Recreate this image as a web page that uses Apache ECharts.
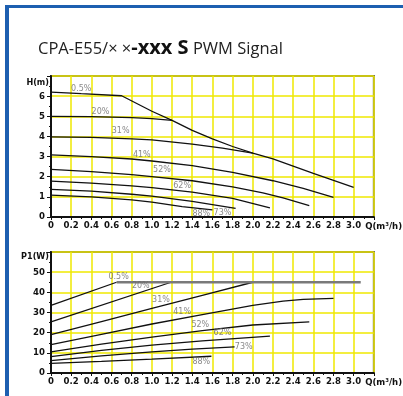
<!DOCTYPE html>
<html><head><meta charset="utf-8">
<script src="https://cdn.jsdelivr.net/npm/echarts@6/dist/echarts.min.js"></script>
<style>html,body{margin:0;padding:0;background:#fff;}#c{width:403px;height:396px;}</style>
</head><body><div id="c"></div>
<script>
// ---- Data: H(m) vs Q(m3/h) ----
const speedNames = ['0.5%','20%','31%','41%','52%','62%','73%','88%'];
const head05 = [[0,6.2],[0.3,6.12],[0.7,6.02],[1.0,5.25],[1.2,4.8],[1.4,4.3],[1.6,3.88],[1.8,3.5],[2.0,3.17],[2.2,2.88],[2.4,2.53],[2.6,2.17],[2.8,1.82],[3.0,1.47]];
const head20 = [[0,5.0],[0.4,4.98],[0.8,4.93],[1.0,4.88],[1.2,4.8]];
const head31 = [[0,3.98],[0.4,3.95],[0.8,3.88],[1.0,3.83],[1.4,3.62],[1.7,3.42],[2.0,3.17]];
const head41 = [[0,3.08],[0.4,3.0],[0.8,2.88],[1.0,2.78],[1.4,2.55],[1.8,2.22],[2.2,1.8],[2.5,1.42],[2.8,0.98]];
const head52 = [[0,2.36],[0.4,2.25],[0.8,2.1],[1.0,2.0],[1.4,1.8],[1.8,1.5],[2.1,1.2],[2.3,0.95],[2.56,0.56]];
const head62 = [[0,1.78],[0.4,1.68],[0.8,1.55],[1.0,1.46],[1.4,1.24],[1.8,0.92],[2.17,0.45]];
const head73 = [[0,1.37],[0.4,1.28],[0.8,1.13],[1.0,1.04],[1.4,0.78],[1.83,0.43]];
const head88 = [[0,1.09],[0.4,1.0],[0.8,0.85],[1.0,0.74],[1.3,0.52],[1.6,0.35]];
const headLabelAt = [[0.3,6.36],[0.49,5.22],[0.69,4.26],[0.9,3.06],[1.1,2.33],[1.3,1.54],[1.7,0.21],[1.49,0.15]];

// ---- Data: P1(W) vs Q(m3/h) ----
const power05 = [[0,33.5],[0.65,45]];
const powerMax = [[0.65,45],[3.07,45]];
const power20 = [[0,25.3],[1.19,45]];
const power31 = [[0,19],[0.5,25.5],[1.0,32],[1.5,38.5],[2.0,45]];
const power41 = [[0,14.1],[0.5,19.2],[1.0,24.3],[1.5,29],[2.0,33.5],[2.3,35.6],[2.5,36.5],[2.8,37]];
const power52 = [[0,10.5],[0.5,14.3],[1.0,17.8],[1.5,21],[2.0,23.8],[2.56,25.4]];
const power62 = [[0,8.1],[0.5,11.2],[1.0,13.8],[1.5,15.9],[2.17,18.3]];
const power73 = [[0,6.1],[0.5,8.5],[1.0,10.5],[1.4,11.8],[1.82,13.0]];
const power88 = [[0,4.8],[0.5,5.8],[1.0,6.9],[1.59,8.3]];
const powerLabelAt = [[0.67,47.7],[0.89,43.1],[1.09,36.1],[1.3,30.2],[1.48,23.6],[1.7,19.9],[1.91,13.0],[1.49,5.5]];

const qMin = 0, qMax = 3.2, qStep = 0.2;
const hMin = 0, hMax = 7, hStep = 1;
const pMin = 0, pMax = 60, pStep = 10;

const headCurves = [head05, head20, head31, head41, head52, head62, head73, head88];
const powerCurves = [power05, power20, power31, power41, power52, power62, power73, power88];

const YEL = '#efe800';
const axisFont = {fontFamily:'Liberation Sans Narrow, DejaVu Sans Condensed, sans-serif', fontWeight:'bold', fontSize:9.5, color:'#111'};

function xAx(gi){
  return {type:'value', gridIndex:gi, min:qMin, max:qMax, interval:qStep,
    name:'Q(m³/h)', nameLocation:'end', nameGap:-13,
    nameTextStyle:Object.assign({align:'left', verticalAlign:'top', padding:[5,0,0,0]}, axisFont),
    axisLine:{show:true, onZero:false, lineStyle:{color:'#111', width:2}},
    axisTick:{show:true, length:3, lineStyle:{color:'#111'}},
    minorTick:{show:true, splitNumber:2, length:2, lineStyle:{color:'#111'}},
    splitLine:{show:true, lineStyle:{color:YEL, width:1.5}},
    axisLabel:Object.assign({margin:4, showMaxLabel:false, hideOverlap:false,
      formatter:function(v){ return v===0?'0':v.toFixed(1);} }, axisFont)
  };
}
function yAx(gi, mn, mx, st, nm, gap){
  return {type:'value', gridIndex:gi, min:mn, max:mx, interval:st,
    name:nm, nameLocation:'end', nameGap:gap,
    nameTextStyle:Object.assign({align:'right', verticalAlign:'middle', padding:[0,2,0,0]}, axisFont, {fontSize:9}),
    axisLine:{show:true, lineStyle:{color:'#111', width:2}},
    axisTick:{show:true, length:4, lineStyle:{color:'#111'}},
    minorTick:{show:true, splitNumber:2, length:2, lineStyle:{color:'#111'}},
    splitLine:{show:true, lineStyle:{color:YEL, width:1.5}},
    axisLabel:Object.assign({margin:6, showMaxLabel:false}, axisFont)
  };
}

const series = [];
headCurves.forEach(function(d){
  series.push({type:'line', xAxisIndex:0, yAxisIndex:0, data:d, showSymbol:false, symbol:'none', smooth:false,
    lineStyle:{color:'#111', width:1.3}, z:3});
});
powerCurves.forEach(function(d){
  series.push({type:'line', xAxisIndex:1, yAxisIndex:1, data:d, showSymbol:false, symbol:'none', smooth:false,
    lineStyle:{color:'#111', width:1.3}, z:3});
});
series.push({type:'line', xAxisIndex:1, yAxisIndex:1, data:powerMax, symbol:'none',
  lineStyle:{color:'#7a7a7a', width:2.5}, z:3});
const lblStyle = {show:true, position:'inside', color:'#6a6a6a', fontSize:8, fontFamily:'DejaVu Sans, sans-serif',
  formatter:function(p){return speedNames[p.dataIndex];}};
series.push({type:'scatter', xAxisIndex:0, yAxisIndex:0, data:headLabelAt, symbolSize:1, itemStyle:{color:'rgba(0,0,0,0)'}, label:lblStyle, z:5, silent:true});
series.push({type:'scatter', xAxisIndex:1, yAxisIndex:1, data:powerLabelAt, symbolSize:1, itemStyle:{color:'rgba(0,0,0,0)'}, label:lblStyle, z:5, silent:true});

const option = {
  animation:false,
  backgroundColor:'#fff',
  title:{
    text:'{a|CPA-E55/× ×}{b|-xxx S}{a| PWM Signal}',
    left:33, top:31,
    textStyle:{fontWeight:'normal', rich:{
      a:{fontFamily:'Open Sans, Noto Sans, sans-serif', fontSize:16.5, fontWeight:'normal', color:'#222', verticalAlign:'bottom', lineHeight:22},
      b:{fontFamily:'Open Sans, Noto Sans, sans-serif', fontSize:20, fontWeight:'bold', color:'#111', verticalAlign:'bottom', lineHeight:22}
    }}
  },
  graphic:[
    {type:'rect', shape:{x:5, y:5, width:398, height:3}, style:{fill:'#1d5fb0'}},
    {type:'rect', shape:{x:5, y:5, width:4, height:391}, style:{fill:'#1d5fb0'}}
  ],
  grid:[
    {left:51, top:76, width:324, height:141, show:true, borderColor:'#555', borderWidth:2, backgroundColor:'#fff'},
    {left:51, top:252, width:324, height:121, show:true, borderColor:'#555', borderWidth:2, backgroundColor:'#fff'}
  ],
  xAxis:[xAx(0), xAx(1)],
  yAxis:[yAx(0,hMin,hMax,hStep,'H(m)',-7), yAx(1,pMin,pMax,pStep,'P1(W)',-5)],
  series:series
};
echarts.init(document.getElementById('c'), null, {renderer:'canvas'}).setOption(option);
</script></body></html>
